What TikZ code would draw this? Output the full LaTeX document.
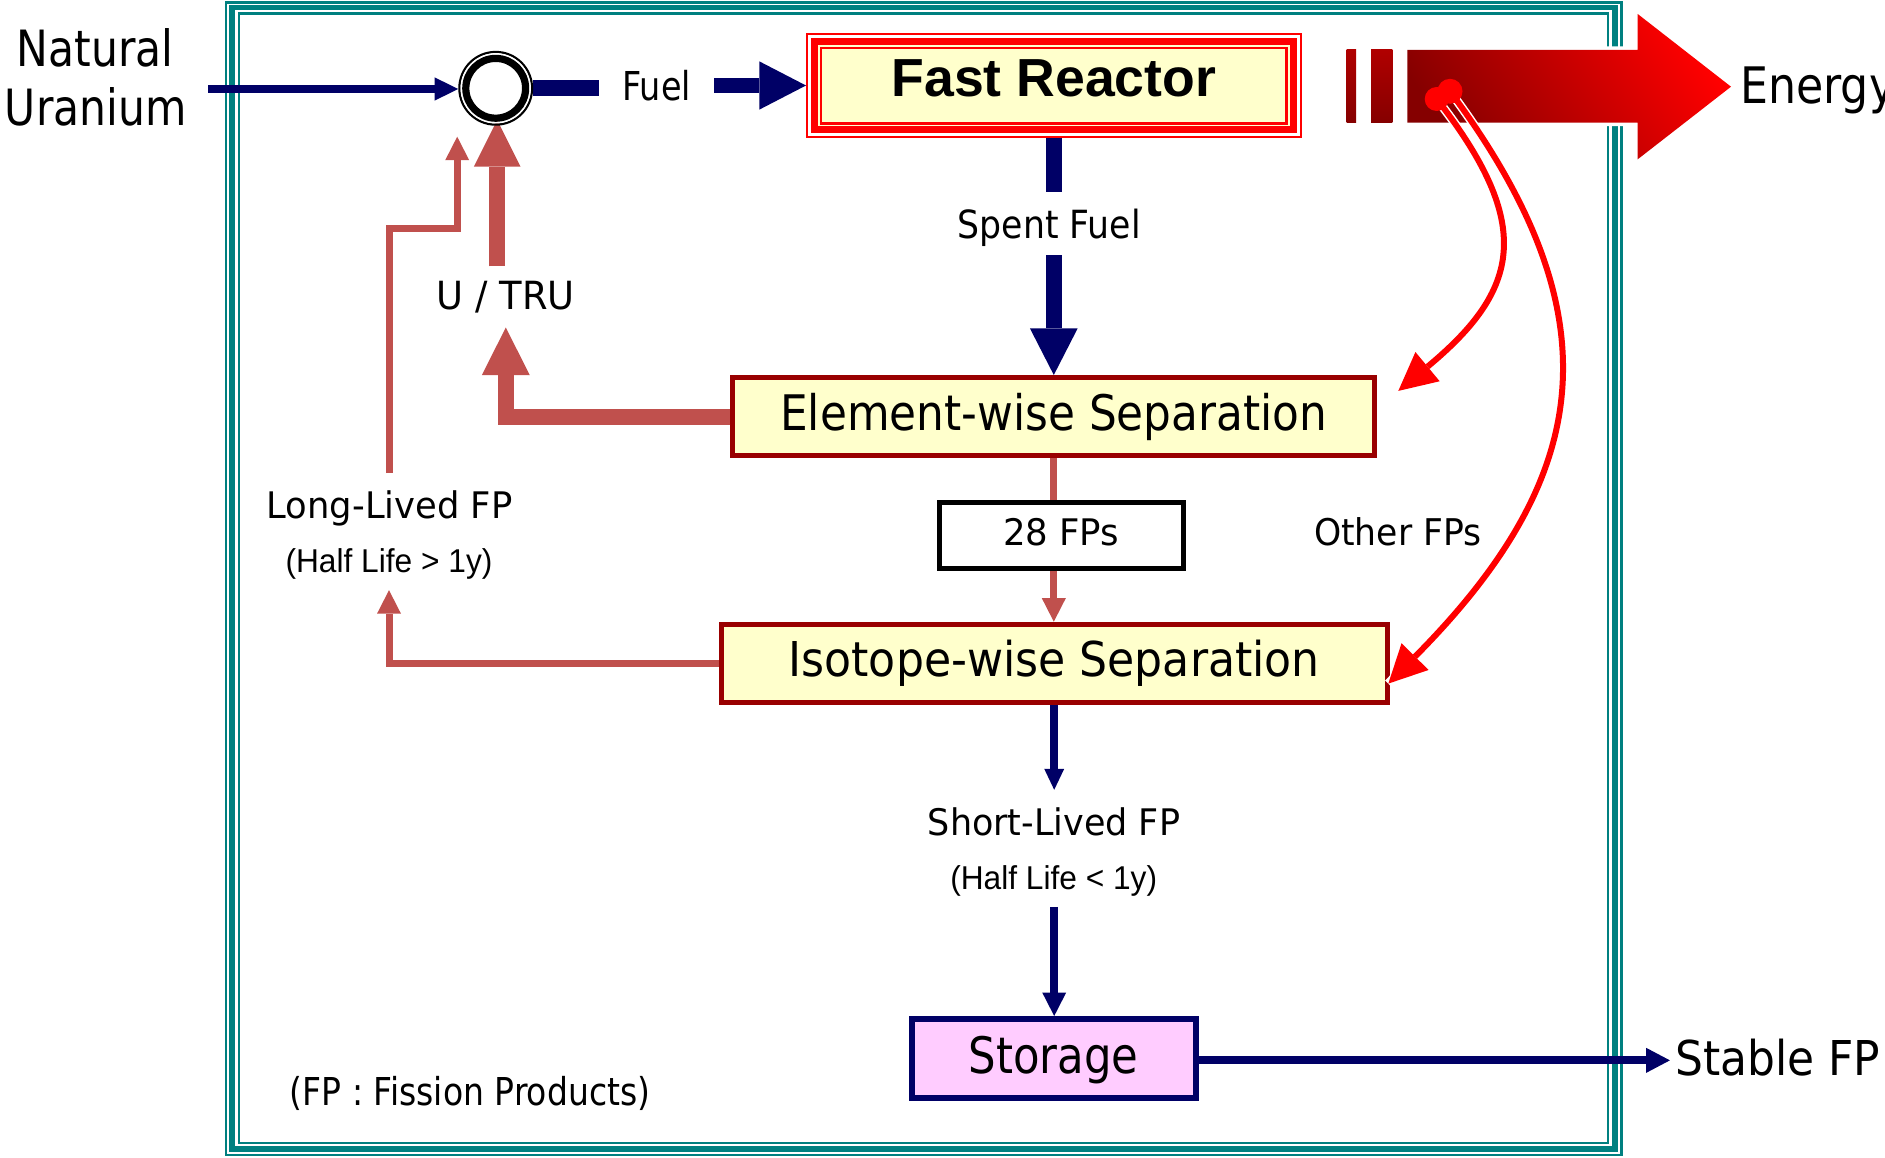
\documentclass[tikz,border=0pt]{standalone}
\usepackage{fontspec}
\usepackage{graphicx}
\usetikzlibrary{arrows.meta,calc}
\newfontfamily\tah{DejaVu Sans}
\newfontfamily\ari{Liberation Sans}
\newcommand\sx[2]{\scalebox{#1}[1]{#2}}
\definecolor{cNavy}{HTML}{000066}
\definecolor{cBrick}{HTML}{C0504D}
\definecolor{cDred}{HTML}{990000}
\definecolor{cPale}{HTML}{FFFFCC}
\definecolor{cPink}{HTML}{FFCCFF}
\definecolor{cTeal}{HTML}{008080}
\definecolor{cEred}{HTML}{850000}
\definecolor{cBar}{HTML}{B00000}
\begin{document}
\begin{tikzpicture}[x=1pt,y=-1pt,
  tfont/.style={font=\tah\fontsize{#1}{#1}\selectfont, inner sep=0pt},
  afont/.style={font=\ari\fontsize{#1}{#1}\selectfont, inner sep=0pt},
  box/.style={draw=cDred, line width=5pt, fill=cPale, inner sep=0pt, text depth=0pt},
  navyln/.style={draw=cNavy, line width=8pt},
  fatnavy/.style={draw=cNavy, line width=15.7pt},
  brickln/.style={draw=cBrick, line width=7pt},
  fatbrick/.style={draw=cBrick, line width=15.7pt},
  smalltip/.style={-{Triangle[length=23.5pt,width=24pt,line width=0pt]}},
  bigtip/.style={-{Triangle[length=47pt,width=48pt,line width=0pt]}},
  redtip/.style={-{Triangle[length=38pt,width=38pt,line width=0pt]}},
  ]
\path[use as bounding box] (0,0) rectangle (1885,1158);

% frame
\draw[cTeal, line width=2.5pt] (226,2.5) rectangle (1621.3,1155);
\draw[cTeal, line width=5.8pt] (232.2,7.5) rectangle (1614.8,1148.8);
\draw[cTeal, line width=2.5pt] (238.9,13.7) rectangle (1608.2,1142.8);

% text labels
\node[tfont=50, anchor=base] (nat) at (95,66.7) {\sx{0.85}{Natural}};
\node[tfont=50, anchor=base] (ura) at (95.8,126) {\sx{0.85}{Uranium}};
\coordinate (nuin) at (208.3,89);

\node[circle, minimum size=72.6pt, inner sep=0pt, outer sep=1.15pt] (circ) at (495.7,88.3) {};

\node[tfont=39.8, anchor=base, inner xsep=23pt] (fuel) at (656.7,100.7) {\sx{0.84}{Fuel}};

\node[draw=red, line width=7pt, fill=cPale, minimum width=479.6pt, minimum height=88.4pt,
      outer sep=8pt, inner sep=0pt, text height=22.4pt, text depth=0pt,
      font=\ari\bfseries\fontsize{53.6}{60}\selectfont] (fr) at (1053.8,85.5) {Fast Reactor};
\draw[red, line width=1.7pt] ([shift={(0.9,0.9)}]fr.north west) rectangle ([shift={(-0.9,-0.9)}]fr.south east);
\draw[red, line width=2.4pt] ([shift={(15,15)}]fr.north west) rectangle ([shift={(-15,-14)}]fr.south east);

\node[tfont=50.3, anchor=base west] (energy) at (1740,103.3) {\sx{0.88}{Energy}};

\node[tfont=38.8, anchor=base, text height=29.5pt, text depth=0.6pt, inner ysep=16.1pt] (spent) at (1049.2,238.3) {\sx{0.894}{Spent Fuel}};

\node[tfont=38.8, anchor=base, text height=26pt, text depth=0pt, inner ysep=17.3pt] (utru) at (505.8,310) {\sx{0.95}{U / TRU}};

\node[box, minimum width=641.8pt, minimum height=78.3pt, text height=28.1pt, tfont=49] (el) at (1053.8,416.65) {\sx{0.894}{Element-wise Separation}};

\node[tfont=36.6, anchor=base, text height=27.8pt, text depth=0pt, inner ysep=17.2pt] (lfp) at (389.6,518.3) {\sx{0.966}{Long-Lived FP}};
\node[afont=33, anchor=base, text depth=7pt, inner ysep=10.5pt] (hl1) at (389,572.5) {\sx{0.96}{(Half Life > 1y)}};

\node[draw=black, line width=5pt, fill=white, inner sep=0pt, minimum width=244.1pt, minimum height=65.7pt,
      text height=19.3pt, text depth=0pt, tfont=36.6] (fp28) at (1061.15,535.35) {\sx{0.97}{28 FPs}};

\node[tfont=36.8, anchor=base west] (ofp) at (1313.8,545.8) {\sx{0.94}{Other FPs}};

\node[box, minimum width=666pt, minimum height=78.3pt, text height=26.7pt, tfont=48] (iso) at (1054.2,663.35) {\sx{0.92}{Isotope-wise Separation}};

\node[tfont=36.6, anchor=base, text height=27.8pt, text depth=0pt, inner ysep=17.2pt] (sfp) at (1054,835) {\sx{0.955}{Short-Lived FP}};
\node[afont=33, anchor=base, text depth=7pt, inner ysep=10.2pt] (hl2) at (1053.7,889.5) {\sx{0.96}{(Half Life < 1y)}};

\node[draw=cNavy, line width=6pt, fill=cPink, inner sep=0pt, minimum width=283.8pt, minimum height=78.7pt,
      text height=29.9pt, text depth=0pt, tfont=50.3] (st) at (1053.7,1058.35) {\sx{0.863}{Storage}};

\node[tfont=48, anchor=base west, inner xsep=5pt] (stable) at (1669.9,1075) {\sx{0.915}{Stable FP}};

\node[tfont=38.4, anchor=base] (note) at (470,1105) {\sx{0.86}{(FP : Fission Products)}};

% navy connectors
\draw[navyln, -{Triangle[length=23.7pt,width=23.3pt,line width=0pt]}] (nuin) -- (nuin -| circ.west);
\draw[fatnavy] (circ.east) -- (circ.east -| fuel.west);
\draw[fatnavy, -{Triangle[length=46.7pt,width=48.3pt,line width=0pt]}] (fuel.east |- fr.west) -- (fr.west);
\draw[fatnavy] (fr.south) -- (fr.south |- spent.north);
\draw[fatnavy, -{Triangle[length=46.6pt,width=47.7pt,line width=0pt]}] (fr.south |- spent.south) -- (el.north);
\draw[navyln, -{Triangle[length=21pt,width=20pt,line width=0pt]}] (iso.south) -- (iso.south |- sfp.north);
\draw[navyln, smalltip] (iso.south |- hl2.south) -- (iso.south |- st.north);
\draw[navyln, -{Triangle[length=23.7pt,width=25pt,line width=0pt]}] ([yshift=-2pt]st.east) -- ([yshift=-2pt]st.east -| stable.west);

% brick connectors
\draw[fatbrick, -{Triangle[length=47.7pt,width=48pt,line width=0pt]}] (el.west) -| (utru.south);
\draw[fatbrick, -{Triangle[length=46.7pt,width=46.7pt,line width=0pt]}] ([xshift=1.5pt]circ.south |- utru.north) -- ([shift={(1.5,-5.8)}]circ.south);
\coordinate (lltip) at (457.2,136.7);
\draw[brickln, smalltip] (lfp.north) -- ++(0,-245) -| (lltip);
\draw[brickln, smalltip] (iso.west) -| (hl1.south);
\draw[brickln] (el.south) -- (el.south |- fp28.north);
\draw[brickln, smalltip] (el.south |- fp28.south) -- (el.south |- iso.north);

% mixing circle rings
\draw[black, line width=2.3pt] (circ.center) circle[radius=36.3];
\draw[white, line width=1.7pt] (circ.center) circle[radius=34.35];
\draw[black, line width=7.2pt] (circ.center) circle[radius=29.9];

% energy arrow
\shade[top color=cBar, bottom color=cEred] (1346.7,50) rectangle (1356,122.7);
\shade[top color=cBar, bottom color=cEred] (1371,50) rectangle (1392.3,122.7);
\draw[white, line width=7pt, line join=miter] (1407.3,50) -- (1637.7,50) -- (1637.7,14) -- (1731,86.7) -- (1637.7,159.3) -- (1637.7,122.7) -- (1407.3,122.7) -- cycle;
\shade[top color=red, bottom color=cEred, shading angle=-55] (1407.3,50) -- (1637.7,50) -- (1637.7,14) -- (1731,86.7) -- (1637.7,159.3) -- (1637.7,122.7) -- (1407.3,122.7) -- cycle;

% other FPs curves
\coordinate (d1) at (1436.7,99);
\coordinate (d2) at (1450,91.3);
\coordinate (t1) at (1398.3,390.9);
\coordinate (t2) at (1388.3,683.6);
\draw[white, line width=9pt] (d1) .. controls (1535,225) and (1520,290) .. (t1);
\draw[white, line width=9pt] (d2) .. controls (1620,320) and (1590,480) .. (t2);
\draw[red, line width=6pt, redtip] (d1) .. controls (1535,225) and (1520,290) .. (t1);
\draw[red, line width=6pt, redtip] (d2) .. controls (1620,320) and (1590,480) .. (t2);
\fill[red] (d1) circle[radius=12];
\fill[red] (d2) circle[radius=12.5];
\end{tikzpicture}
\end{document}
